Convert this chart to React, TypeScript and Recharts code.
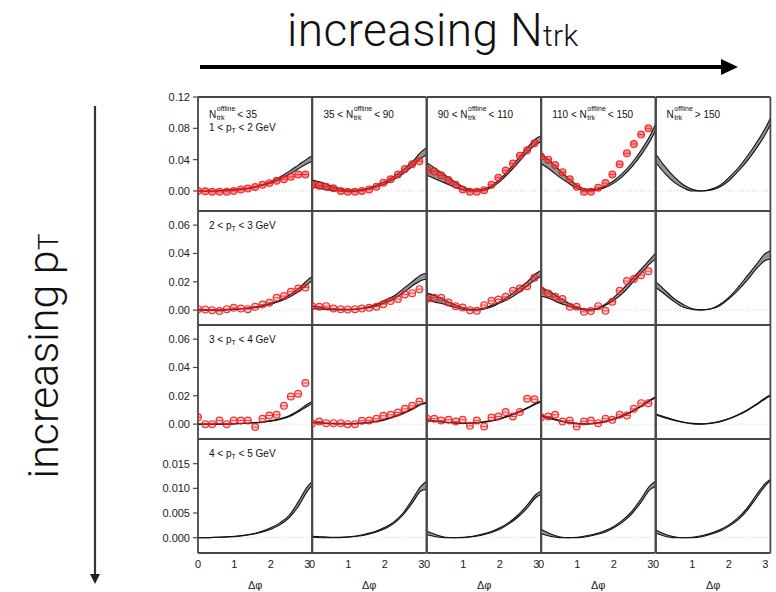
import React from 'react';
import { ComposedChart, Area, Line, Scatter, XAxis, YAxis, ReferenceLine } from 'recharts';

// ---------- data ----------
const BAND_X = [0, 0.25, 0.5, 0.75, 1, 1.25, 1.5, 1.75, 2, 2.25, 2.5, 2.75, 3, 3.14];
const POINT_X = [0, 0.2, 0.39, 0.59, 0.79, 0.98, 1.18, 1.37, 1.57, 1.77, 1.96, 2.16, 2.36, 2.55, 2.75, 2.95];
const X_TICKS = [0, 0.5, 1, 1.5, 2, 2.5, 3];
const X_LABEL_TICKS = [0, 1, 2, 3];

const COL_TITLES = ['< 35', '35 <|< 90', '90 <|< 110', '110 <|< 150', '> 150'];
const PT_TITLES = ['1 < p|T|< 2 GeV', '2 < p|T|< 3 GeV', '3 < p|T|< 4 GeV', '4 < p|T|< 5 GeV'];

const Y_DOMAINS: [number, number][] = [[-0.0256, 0.12], [-0.0105, 0.07], [-0.0105, 0.07], [-0.0031, 0.02]];
const Y_TICKS = [[0, 0.04, 0.08, 0.12], [0, 0.02, 0.04, 0.06], [0, 0.02, 0.04, 0.06], [0, 0.005, 0.01, 0.015]];
const Y_DECIMALS = [2, 2, 2, 3];

// model band (upper / lower edge), one array per N_trk column
const UPPER_PT1 = [
  [0, 0, 0, 0.001, 0.002, 0.003, 0.005, 0.008, 0.012, 0.018, 0.025, 0.033, 0.041, 0.045],
  [0.014, 0.011, 0.007, 0.003, 0.001, 0.001, 0.003, 0.007, 0.012, 0.019, 0.027, 0.037, 0.05, 0.055],
  [0.036, 0.028, 0.02, 0.012, 0.005, 0.001, 0.002, 0.006, 0.015, 0.027, 0.041, 0.055, 0.067, 0.071],
  [0.048, 0.038, 0.027, 0.016, 0.007, 0.002, 0.002, 0.006, 0.013, 0.023, 0.036, 0.052, 0.071, 0.085],
  [0.047, 0.031, 0.018, 0.008, 0.002, 0, 0.002, 0.007, 0.017, 0.029, 0.044, 0.061, 0.08, 0.093],
];
const LOWER_PT1 = [
  [0, 0, 0, 0.001, 0.001, 0.002, 0.004, 0.007, 0.01, 0.015, 0.021, 0.028, 0.035, 0.038],
  [0.005, 0.003, 0.001, 0, -0.001, 0, 0.002, 0.005, 0.009, 0.015, 0.022, 0.031, 0.042, 0.046],
  [0.02, 0.015, 0.01, 0.005, 0.001, 0, 0, 0.004, 0.012, 0.023, 0.036, 0.049, 0.06, 0.063],
  [0.035, 0.027, 0.018, 0.01, 0.003, 0, 0.001, 0.004, 0.01, 0.019, 0.031, 0.046, 0.064, 0.077],
  [0.036, 0.022, 0.011, 0.004, 0, 0, 0.001, 0.005, 0.013, 0.025, 0.038, 0.054, 0.072, 0.085],
];
const UPPER_PT2 = [
  [0, 0, 0, 0.0003, 0.0007, 0.0012, 0.002, 0.003, 0.005, 0.007, 0.0105, 0.015, 0.021, 0.024],
  [0.003, 0.002, 0.001, 0.0005, 0.0005, 0.001, 0.002, 0.004, 0.007, 0.01, 0.015, 0.02, 0.025, 0.026],
  [0.012, 0.01, 0.007, 0.004, 0.0015, 0.0005, 0.001, 0.003, 0.006, 0.01, 0.015, 0.02, 0.026, 0.028],
  [0.016, 0.013, 0.009, 0.005, 0.002, 0.0005, 0.001, 0.004, 0.009, 0.015, 0.022, 0.029, 0.036, 0.04],
  [0.02, 0.014, 0.008, 0.004, 0.001, 0.0003, 0.001, 0.004, 0.009, 0.016, 0.024, 0.032, 0.04, 0.042],
];
const LOWER_PT2 = [
  [0, 0, 0, 0.0002, 0.0005, 0.001, 0.0016, 0.0026, 0.0042, 0.0062, 0.009, 0.013, 0.018, 0.021],
  [0.001, 0.0007, 0.0003, 0.0002, 0.0002, 0.0006, 0.0015, 0.003, 0.005, 0.008, 0.012, 0.017, 0.021, 0.022],
  [0.007, 0.0055, 0.004, 0.002, 0.0005, 0, 0.0005, 0.002, 0.005, 0.008, 0.012, 0.017, 0.022, 0.024],
  [0.01, 0.008, 0.005, 0.003, 0.001, 0, 0.0005, 0.003, 0.007, 0.012, 0.019, 0.026, 0.033, 0.036],
  [0.016, 0.011, 0.006, 0.002, 0.0005, 0, 0.0008, 0.003, 0.008, 0.014, 0.021, 0.029, 0.035, 0.036],
];
const UPPER_PT3 = [
  [0, 0, 0, 0, 0.0003, 0.0006, 0.001, 0.0015, 0.0025, 0.0038, 0.006, 0.0095, 0.014, 0.016],
  [0.0015, 0.001, 0.0005, 0.0003, 0.0003, 0.0006, 0.0012, 0.002, 0.0035, 0.0055, 0.008, 0.011, 0.0145, 0.0155],
  [0.003, 0.0022, 0.0015, 0.001, 0.0008, 0.001, 0.0015, 0.0025, 0.004, 0.006, 0.0085, 0.0115, 0.015, 0.0165],
  [0.0065, 0.0045, 0.0028, 0.0014, 0.0005, 0.0003, 0.0008, 0.002, 0.0038, 0.0062, 0.0093, 0.013, 0.0172, 0.0192],
  [0.0072, 0.005, 0.003, 0.0015, 0.0005, 0.0002, 0.0008, 0.002, 0.004, 0.0067, 0.01, 0.014, 0.0185, 0.0205],
];
const LOWER_PT3 = [
  [0, 0, 0, 0, 0.0002, 0.0004, 0.0008, 0.0012, 0.002, 0.0033, 0.0052, 0.0085, 0.0125, 0.0145],
  [0.001, 0.0007, 0.0003, 0.0001, 0.0001, 0.0004, 0.0009, 0.0017, 0.003, 0.005, 0.0074, 0.0104, 0.0138, 0.0148],
  [0.0025, 0.0018, 0.0012, 0.0007, 0.0005, 0.0007, 0.0012, 0.0021, 0.0035, 0.0055, 0.008, 0.011, 0.0143, 0.0158],
  [0.0055, 0.0038, 0.0022, 0.001, 0.0002, 0, 0.0005, 0.0016, 0.0034, 0.0057, 0.0088, 0.0124, 0.0165, 0.0185],
  [0.0064, 0.0044, 0.0025, 0.0011, 0.0002, 0, 0.0005, 0.0016, 0.0036, 0.0062, 0.0095, 0.0134, 0.0178, 0.0198],
];
const UPPER_PT4 = [
  [0, 0, 0.0001, 0.0002, 0.0003, 0.0005, 0.0008, 0.0013, 0.002, 0.003, 0.0045, 0.0072, 0.0103, 0.0114],
  [0.0003, 0.0002, 0.0001, 0.0001, 0.0002, 0.0004, 0.0008, 0.0013, 0.0021, 0.0032, 0.005, 0.0077, 0.0105, 0.0114],
  [0.0013, 0.0006, 0.0001, 0, 0.0001, 0.0003, 0.0007, 0.0012, 0.002, 0.0031, 0.0046, 0.0066, 0.0088, 0.0095],
  [0.0017, 0.0008, 0.0002, 0, 0.0001, 0.0004, 0.0008, 0.0014, 0.0023, 0.0036, 0.0054, 0.0079, 0.0106, 0.0114],
  [0.0015, 0.0007, 0.0002, 0, 0.0001, 0.0004, 0.0009, 0.0016, 0.0026, 0.004, 0.006, 0.0086, 0.011, 0.0118],
];
const LOWER_PT4 = [
  [0, 0, 0.0001, 0.0001, 0.0002, 0.0004, 0.0007, 0.0011, 0.0017, 0.0026, 0.004, 0.0063, 0.0094, 0.0107],
  [0.0001, 0, 0, 0, 0.0001, 0.0003, 0.0006, 0.0011, 0.0018, 0.0029, 0.0046, 0.007, 0.0095, 0.0098],
  [0.0006, 0.0002, 0, 0, 0, 0.0002, 0.0005, 0.001, 0.0017, 0.0028, 0.0042, 0.006, 0.0082, 0.0088],
  [0.0008, 0.0003, 0, 0, 0, 0.0002, 0.0006, 0.0011, 0.002, 0.0032, 0.0049, 0.0072, 0.0098, 0.0103],
  [0.0009, 0.0003, 0, 0, 0, 0.0002, 0.0007, 0.0013, 0.0023, 0.0036, 0.0055, 0.008, 0.0105, 0.0115],
];

// measured points (red), one array per N_trk column (null = no data)
const POINTS_PT1 = [
  [0, -0.0004, -0.001, -0.001, -0.001, 0, 0.002, 0.003, 0.005, 0.008, 0.01, 0.013, 0.015, 0.018, 0.021, 0.021],
  [0.0077, 0.0068, 0.0055, 0.0034, 0, -0.001, -0.001, 0, 0.002, 0.0055, 0.0106, 0.015, 0.021, 0.028, 0.034, 0.038],
  [0.027, 0.025, 0.02, 0.014, 0.008, 0.002, -0.001, -0.001, 0.001, 0.008, 0.017, 0.026, 0.035, 0.045, 0.052, 0.061],
  [0.044, 0.04, 0.033, 0.024, 0.015, 0.0055, -0.001, -0.001, 0.004, 0.01, 0.021, 0.034, 0.048, 0.06, 0.072, 0.08],
  null,
];
const POINTS_PT2 = [
  [0.0007, 0.0005, 0, -0.0007, 0.0007, 0.0016, 0.0012, 0.0007, 0.0024, 0.004, 0.0052, 0.0087, 0.0099, 0.013, 0.0153, 0.016],
  [0.0028, 0.0024, 0.0028, 0.0012, 0.0007, 0.0005, 0.0007, 0.0012, 0.0016, 0.0024, 0.0042, 0.0064, 0.0078, 0.011, 0.012, 0.0148],
  [0.0078, 0.0087, 0.0087, 0.0054, 0.0028, 0.0019, 0, -0.0005, 0.0035, 0.0066, 0.0075, 0.0094, 0.0136, 0.0153, 0.0169, 0.0228],
  [0.0141, 0.0118, 0.0094, 0.0078, 0.0024, 0.0024, -0.0012, -0.0007, 0.0028, -0.0005, 0.0059, 0.0136, 0.0205, 0.0219, 0.0247, 0.0275],
  null,
];
const POINTS_PT3 = [
  [0.0049, 0, 0, 0.0026, 0, 0.0026, 0.0026, 0.0026, -0.0021, 0.0038, 0.0061, 0.0066, 0.0129, 0.0195, 0.0214, 0.029],
  [0.0007, 0.0019, 0.0007, 0.0007, 0.0007, 0, 0, 0.0024, 0.0026, 0.0038, 0.0059, 0.0066, 0.0082, 0.0108, 0.0129, 0.016],
  [0.0038, 0.0038, 0.0026, 0.0031, 0.0019, 0.0031, -0.0012, 0.0026, -0.0016, 0.0047, 0.0054, 0.0085, 0.0054, 0.0085, 0.0179, 0.0176],
  [0.0049, 0.0054, 0.0066, 0.0019, 0.0026, -0.0016, 0.0019, 0.0026, 0.0007, 0.0038, 0.0031, 0.0066, 0.0061, 0.0108, 0.0148, 0.0148],
  null,
];
const POINTS_PT4 = [null, null, null, null, null];

const UPPERS = [UPPER_PT1, UPPER_PT2, UPPER_PT3, UPPER_PT4];
const LOWERS = [LOWER_PT1, LOWER_PT2, LOWER_PT3, LOWER_PT4];
const POINTS = [POINTS_PT1, POINTS_PT2, POINTS_PT3, POINTS_PT4];

// ---------- layout ----------
const COL_X = [198, 312.4, 426.8, 541.2, 655.6];
const ROW_Y = [97, 211, 325, 439];
const PW = 114.4;
const PH = 114;
const M = 8;
const FRAME = '#474747';
const FONT = '"Liberation Sans", Arial, Helvetica, sans-serif';
const TITLE_FONT = 'Roboto, "Liberation Sans", Arial, sans-serif';

const AX = { stroke: FRAME, strokeWidth: 1.8 };
const TL = { stroke: FRAME, strokeWidth: 1.2 };

const makePoint = (row: number) => (props: any) => {
  const { cx, cy } = props;
  if (cx == null || cy == null) return <g />;
  const r = 3.4;
  const fill = row === 0 ? 'rgba(255,60,60,0.55)' : 'rgba(255,90,90,0.3)';
  const stroke = 'rgba(238,20,20,0.85)';
  return (
    <g>
      <circle cx={cx} cy={cy} r={r} fill={fill} stroke={stroke} strokeWidth={1.2} />
      <line x1={cx - r} x2={cx + r} y1={cy} y2={cy} stroke={stroke} strokeWidth={0.9} />
    </g>
  );
};

const XTickLabel = (props: any) => {
  const { x, y, payload } = props;
  return (
    <text x={x} y={y} dy={11} textAnchor="middle" fontSize={11} fill="#222" fontFamily={FONT}>
      {payload.value}
    </text>
  );
};

function Panel({ row, col }: { row: number; col: number }) {
  const isLeft = col === 0;
  const isBottom = row === 3;
  const labW = isLeft ? 62 : 0;
  const labH = isBottom ? 38 : 0;
  const width = PW + 2 * M + labW;
  const height = PH + 2 * M + labH;
  const up = UPPERS[row][col];
  const lo = LOWERS[row][col];
  const band = BAND_X.map((x, i) => ({ x, hi: up[i], lo: lo[i], range: [lo[i], up[i]] }));
  const p = POINTS[row][col];
  const pts = p ? POINT_X.map((x, i) => ({ x, y: p[i] })) : null;
  const dom = Y_DOMAINS[row];
  const fmt = (v: number) => v.toFixed(Y_DECIMALS[row]);
  const xid = isBottom ? 'lab' : 'b';
  return (
    <div style={{ position: 'absolute', left: COL_X[col] - M - labW, top: ROW_Y[row] - M }}>
      <ComposedChart width={width} height={height} margin={{ top: M, right: M, bottom: M, left: M }}>
        {isLeft && (
          <YAxis
            yAxisId="lab"
            orientation="left"
            width={labW}
            type="number"
            domain={dom}
            allowDataOverflow
            ticks={Y_TICKS[row]}
            interval={0}
            axisLine={false}
            tickLine={TL}
            tickSize={5}
            tickMargin={3}
            tick={{ fontSize: 11, fill: '#222', fontFamily: FONT }}
            tickFormatter={fmt}
          />
        )}
        {isBottom && (
          <XAxis
            xAxisId="lab"
            orientation="bottom"
            height={labH}
            type="number"
            dataKey="x"
            domain={[0, Math.PI]}
            allowDataOverflow
            ticks={X_LABEL_TICKS}
            interval={0}
            axisLine={false}
            tickLine={false}
            tickSize={2}
            tickMargin={2}
            tick={<XTickLabel />}
            label={{ value: 'Δφ', position: 'insideBottom', offset: 2, fontSize: 11, fill: '#222', fontFamily: FONT }}
          />
        )}
        <XAxis xAxisId="b" orientation="bottom" mirror type="number" dataKey="x" domain={[0, Math.PI]} allowDataOverflow ticks={X_TICKS} interval={0} tick={false} tickSize={5} axisLine={AX} tickLine={TL} />
        <XAxis xAxisId="t" orientation="top" mirror type="number" dataKey="x" domain={[0, Math.PI]} allowDataOverflow ticks={X_TICKS} interval={0} tick={false} tickSize={5} axisLine={AX} tickLine={TL} />
        <YAxis yAxisId="l" orientation="left" mirror type="number" domain={dom} allowDataOverflow ticks={Y_TICKS[row]} interval={0} tick={false} tickSize={6} axisLine={AX} tickLine={TL} />
        <YAxis yAxisId="r" orientation="right" mirror type="number" domain={dom} allowDataOverflow ticks={Y_TICKS[row]} interval={0} tick={false} tickSize={6} axisLine={AX} tickLine={TL} />
        <ReferenceLine xAxisId={xid} yAxisId="l" y={0} stroke="#c4c4c4" strokeDasharray="1 2" strokeWidth={0.8} />
        <Area xAxisId={xid} yAxisId="l" data={band} dataKey="range" type="monotone" stroke="none" fill="#939393" fillOpacity={1} isAnimationActive={false} />
        <Line xAxisId={xid} yAxisId="l" data={band} dataKey="hi" type="monotone" stroke="#111" strokeWidth={1.1} dot={false} isAnimationActive={false} />
        <Line xAxisId={xid} yAxisId="l" data={band} dataKey="lo" type="monotone" stroke="#111" strokeWidth={1.1} dot={false} isAnimationActive={false} />
        {pts && <Scatter xAxisId={xid} yAxisId="l" data={pts} dataKey="y" shape={makePoint(row)} isAnimationActive={false} />}
      </ComposedChart>
    </div>
  );
}

const Stack = () => (
  <span style={{ position: 'relative', display: 'inline-block', width: 21, height: 10 }}>
    <span style={{ position: 'absolute', left: 0.5, top: -3, fontSize: 7, lineHeight: '8px' }}>offline</span>
    <span style={{ position: 'absolute', left: 0.5, top: 6, fontSize: 7, lineHeight: '8px' }}>trk</span>
  </span>
);

function NLabel({ col }: { col: number }) {
  const parts = COL_TITLES[col].split('|');
  const pre = parts.length > 1 ? parts[0] + ' ' : '';
  const post = parts.length > 1 ? parts[1] : parts[0];
  return (
    <div style={{ position: 'absolute', left: COL_X[col] + 11, top: ROW_Y[0] + 11, fontSize: 10, lineHeight: '10px', fontFamily: FONT, color: '#111', whiteSpace: 'nowrap' }}>
      {pre}N<Stack />{post}
    </div>
  );
}

function PtLabel({ row }: { row: number }) {
  const [a, b, c] = PT_TITLES[row].split('|');
  const top = row === 0 ? ROW_Y[0] + 25.5 : ROW_Y[row] + 9.5;
  return (
    <div style={{ position: 'absolute', left: COL_X[0] + 11, top, fontSize: 10, lineHeight: '10px', fontFamily: FONT, color: '#111', whiteSpace: 'nowrap' }}>
      {a}
      <span style={{ fontSize: 7, position: 'relative', top: 2 }}>{b}</span> {c}
    </div>
  );
}

export default function App() {
  const panels = [];
  for (let r = 0; r < 4; r++) for (let c = 0; c < 5; c++) panels.push(<Panel key={`${r}-${c}`} row={r} col={c} />);
  return (
    <div style={{ position: 'absolute', left: 0, top: 0, width: 776, height: 592, background: '#fff', overflow: 'hidden' }}>
      {panels}
      {[0, 1, 2, 3, 4].map((c) => <NLabel key={`n${c}`} col={c} />)}
      {[0, 1, 2, 3].map((r) => <PtLabel key={`p${r}`} row={r} />)}
      <div style={{ position: 'absolute', left: 287, top: 7, fontSize: 46, lineHeight: '46px', fontFamily: TITLE_FONT, fontWeight: 300, letterSpacing: 0.4, color: '#111', whiteSpace: 'nowrap' }}>
        increasing N<span style={{ fontSize: 30 }}>trk</span>
      </div>
      <div style={{ position: 'absolute', left: 43 - 160, top: 356 - 22, width: 320, height: 44, fontSize: 43, lineHeight: '44px', fontFamily: TITLE_FONT, fontWeight: 300, color: '#111', whiteSpace: 'nowrap', textAlign: 'center', transform: 'rotate(-90deg)' }}>
        increasing p<span style={{ fontSize: 28 }}>T</span>
      </div>
      <svg width={776} height={592} style={{ position: 'absolute', left: 0, top: 0, pointerEvents: 'none' }}>
        <line x1={200} y1={67} x2={724} y2={67} stroke="#000" strokeWidth={4} />
        <polygon points="721,59 738,67 721,75" fill="#000" />
        <line x1={95} y1={106} x2={95} y2={577} stroke="#333" strokeWidth={2.2} />
        <polygon points="90,574 95,584 100,574" fill="#222" />
      </svg>
    </div>
  );
}
